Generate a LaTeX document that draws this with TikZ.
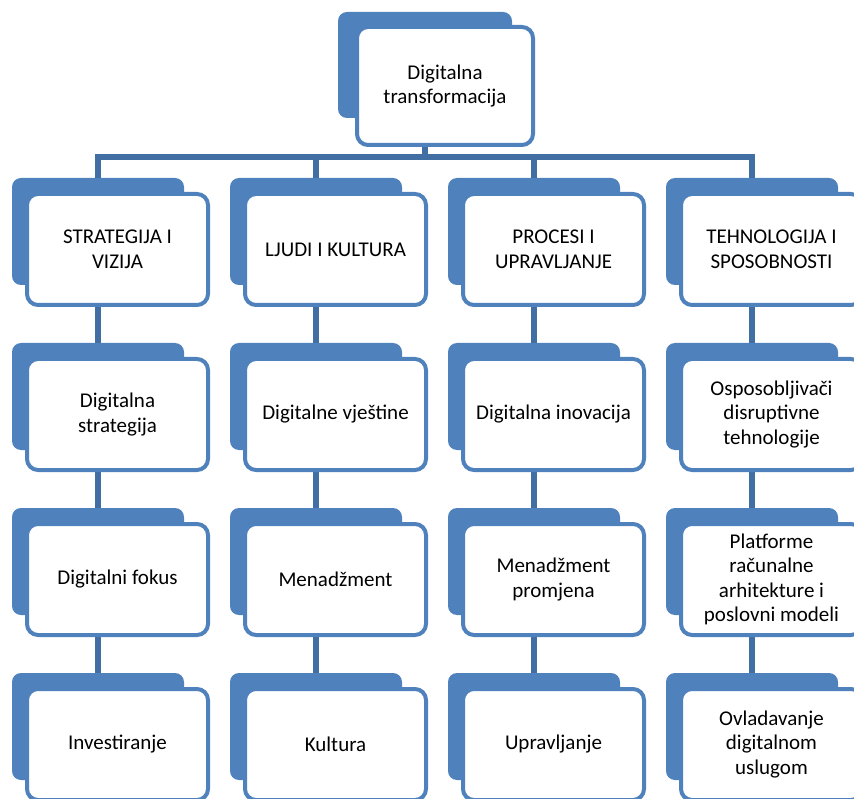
\documentclass[tikz,border=0pt]{standalone}
\usepackage{fontspec}
\setmainfont{Carlito}
\usetikzlibrary{backgrounds}
\definecolor{accent}{HTML}{4F81BD}
\definecolor{linec}{HTML}{416EA3}
\begin{document}
\begin{tikzpicture}[x=1pt,y=-1pt,
 backbox/.style={fill=accent, rounded corners=9pt, minimum width=172pt, minimum height=107pt, inner sep=0pt, outer sep=0pt, draw=none},
 frontbox/.style={fill=white, draw=accent, line width=4pt, rounded corners=11pt, minimum width=181pt, minimum height=111pt, inner sep=0pt, outer sep=0pt, align=center, font=\fontsize{21}{24.5}\selectfont},
 conn/.style={draw=linec, line width=5.5pt}]
\useasboundingbox (0,0) rectangle (854,799);
\clip (0,0) rectangle (854,799);
% top
\node[backbox, minimum width=174pt, minimum height=106pt] (b0) at (425,65) {};
\node[frontbox, minimum width=176pt, minimum height=118pt] (f0) at (445,86) {Digitalna\\transformacija};
% row 1
\node[backbox] (b11) at (98,231.5) {};
\node[frontbox] (f11) at (117.5,249.5) {STRATEGIJA I\\VIZIJA};
\node[backbox] (b12) at (316,231.5) {};
\node[frontbox] (f12) at (335.5,249.5) {LJUDI I KULTURA};
\node[backbox] (b13) at (534,231.5) {};
\node[frontbox] (f13) at (553.5,249.5) {PROCESI I\\UPRAVLJANJE};
\node[backbox] (b14) at (752,231.5) {};
\node[frontbox] (f14) at (771.5,249.5) {TEHNOLOGIJA I\\SPOSOBNOSTI};
% row 2
\node[backbox] (b21) at (98,396.5) {};
\node[frontbox] (f21) at (117.5,414.5) {Digitalna\\strategija};
\node[backbox] (b22) at (316,396.5) {};
\node[frontbox] (f22) at (335.5,414.5) {Digitalne vještine};
\node[backbox] (b23) at (534,396.5) {};
\node[frontbox] (f23) at (553.5,414.5) {Digitalna inovacija};
\node[backbox] (b24) at (752,396.5) {};
\node[frontbox] (f24) at (771.5,414.5) {Osposobljivači\\disruptivne\\tehnologije};
% row 3
\node[backbox] (b31) at (98,561.5) {};
\node[frontbox] (f31) at (117.5,579.5) {Digitalni fokus};
\node[backbox] (b32) at (316,561.5) {};
\node[frontbox] (f32) at (335.5,579.5) {Menadžment};
\node[backbox] (b33) at (534,561.5) {};
\node[frontbox] (f33) at (553.5,579.5) {Menadžment\\promjena};
\node[backbox] (b34) at (752,561.5) {};
\node[frontbox] (f34) at (771.5,579.5) {Platforme\\računalne\\arhitekture i\\poslovni modeli};
% row 4
\node[backbox] (b41) at (98,726.5) {};
\node[frontbox] (f41) at (117.5,744.5) {Investiranje};
\node[backbox] (b42) at (316,726.5) {};
\node[frontbox] (f42) at (335.5,744.5) {Kultura};
\node[backbox] (b43) at (534,726.5) {};
\node[frontbox] (f43) at (553.5,744.5) {Upravljanje};
\node[backbox] (b44) at (752,726.5) {};
\node[frontbox] (f44) at (771.5,744.5) {Ovladavanje\\digitalnom\\uslugom};
\coordinate (bus) at (425,157);
\begin{scope}[on background layer]
\fill[white] (0,0) rectangle (854,799);
\draw[conn] (b0.south |- f0.south) -- (bus);
\draw[conn] (b11.north) -- (b11.north |- bus) -- (b14.north |- bus) -- (b14.north);
\draw[conn] (b12.north |- bus) -- (b12.north);
\draw[conn] (b13.north |- bus) -- (b13.north);
\foreach \c in {1,2,3,4}{
  \draw[conn] (b1\c.south |- f1\c.south) -- (b2\c.north);
  \draw[conn] (b2\c.south |- f2\c.south) -- (b3\c.north);
  \draw[conn] (b3\c.south |- f3\c.south) -- (b4\c.north);
}
\end{scope}
\end{tikzpicture}
\end{document}
